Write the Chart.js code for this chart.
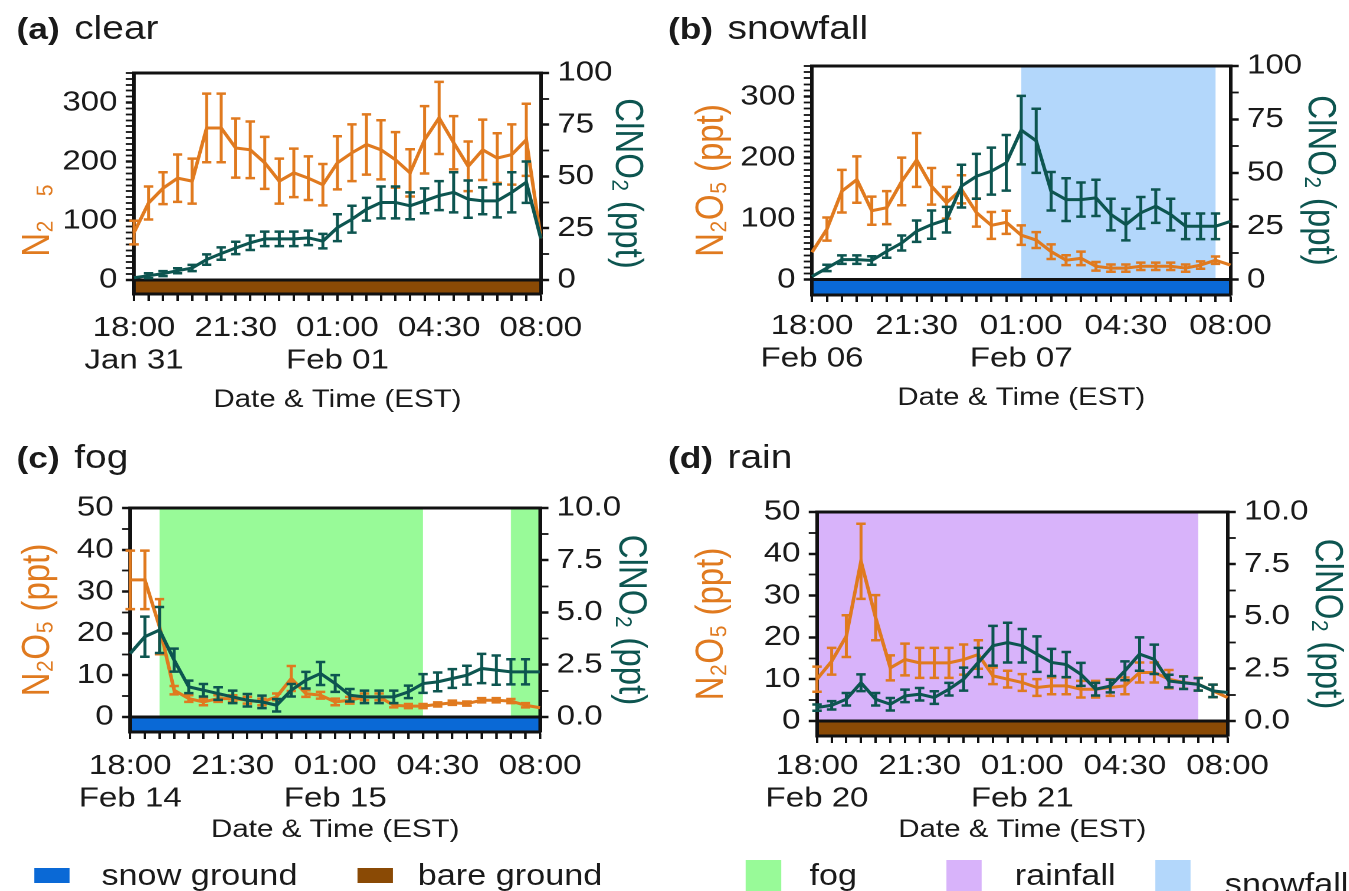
<!DOCTYPE html>
<html>
<head>
<meta charset="utf-8">
<script src="https://cdn.jsdelivr.net/npm/chart.js@4.4.1/dist/chart.umd.min.js"></script>
<style>
  html, body { margin: 0; background: #fff; }
  body { width: 1349px; height: 891px; overflow: hidden; font-family: "Liberation Sans", Arial, sans-serif; color: #1a1a1a; }
  /* the source figure is a bit stretched sideways, so draw narrow and widen */
  #page { position: absolute; left: 0; top: 0; width: 1144px; height: 891px; transform: scaleX(1.18); transform-origin: 0 0; }
  #page canvas { position: absolute; }
  .ptitle { position: absolute; font-size: 33px; line-height: 1; white-space: nowrap; }
  .ptitle b { font-size: 30px; margin-right: 3px; }
  .lg { position: absolute; font-size: 29px; line-height: 1; white-space: nowrap; }
  .sw { position: absolute; }
</style>
</head>
<body>
<div id="page">
  <div class="ptitle" style="left:14px;top:11px"><b>(a)</b> clear</div>
  <div class="ptitle" style="left:566px;top:11px"><b>(b)</b> snowfall</div>
  <div class="ptitle" style="left:14px;top:440px"><b>(c)</b> fog</div>
  <div class="ptitle" style="left:566px;top:440px"><b>(d)</b> rain</div>

  <canvas id="chart-a"></canvas>
  <canvas id="chart-b"></canvas>
  <canvas id="chart-c"></canvas>
  <canvas id="chart-d"></canvas>

  <div class="sw" style="left:29px;top:868px;width:30px;height:15px;background:#0A69D6"></div>
  <div class="lg" style="left:86px;top:861px">snow ground</div>
  <div class="sw" style="left:303px;top:868px;width:30px;height:15px;background:#8A4A05"></div>
  <div class="lg" style="left:354px;top:861px">bare ground</div>
  <div class="sw" style="left:632px;top:860px;width:30px;height:31px;background:#98FA98"></div>
  <div class="lg" style="left:686px;top:861px">fog</div>
  <div class="sw" style="left:802px;top:860px;width:30px;height:31px;background:#D8B3FA"></div>
  <div class="lg" style="left:860px;top:861px">rainfall</div>
  <div class="sw" style="left:979px;top:860px;width:30px;height:31px;background:#B3D7FB"></div>
  <div class="lg" style="left:1038px;top:870px">snowfall</div>
</div>

<script>
// ── data (30-min bins, 18:00 → 08:00) ──────────────────────────────────
const tickTimes = ["18:00", "21:30", "01:00", "04:30", "08:00"];

const datesA = ["Jan 31", "", "Feb 01", "", ""];
const n2o5A    = [80,130,155,172,167,257,257,223,220,198,167,181,172,161,198,215,229,220,203,181,237,274,232,192,220,206,212,237,70];
const n2o5ErrA = [20,28,27,40,38,58,58,50,48,44,38,41,37,35,45,48,51,50,47,40,57,61,45,42,51,42,51,61,0];
const clno2A    = [1,2,3,4.4,5.7,9.8,12.7,15.4,17.9,19.8,19.8,19.8,20.3,18.7,25.2,29.3,34.1,37.4,37.4,35.8,38.2,40.7,42.3,39,38.2,38.2,42.3,47.2,20];
const clno2ErrA = [0,1.2,1.2,1.2,1.5,2.5,3,3,3.5,3.5,3.5,3.5,3.5,3.5,6.5,6.5,5.5,7.7,7.7,6.5,6,7,9.7,9,6.5,8,9.7,10,0];

const datesB = ["Feb 06", "", "Feb 07", "", ""];
const n2o5B    = [45,83,145,164,113,118,161,196,153,126,148,110,89,94,73,65,46,32,35,22,19,19,22,22,22,19,24,32,24];
const n2o5ErrB = [0,19,35,38,23,27,39,44,30,26,23,23,22,19,16,13,12,8,11,7,6,6,6,6,6,6,6,6,0];
const clno2B    = [1.5,5.5,9.4,9.4,9,13.3,17.2,22.7,25.8,28.1,43.8,48.4,50.8,54.7,70,65,41.4,37.5,37.5,38.3,30.5,25.8,31.3,34.4,30.5,25,25,25,27.3];
const clno2ErrB = [0,1.5,2,2,2,3,3.5,5,6.6,6,10,10.5,11,13,16,15,9,10,8,8.5,7.4,7.4,7.4,7.8,7.4,6,6,6,0];
const snowfallB = [[14, 27]];

const datesC = ["Feb 14", "", "Feb 15", "", ""];
const n2o5C    = [32.8,32.8,21.6,6.4,4.4,3.6,4.4,4.4,4,3.6,4.8,9.2,5.6,5.2,3.6,4,4.8,4.8,2.8,2.6,2.6,3,3.4,3.2,4,4,3.8,2.8,2.2];
const n2o5ErrC = [7,7,6.6,1,0.8,0.8,0.8,0.8,0.8,0.8,0.8,3,0.8,0.8,0.8,0.8,0.8,0.8,0.5,0.5,0.5,0.5,0.5,0.5,0.5,0.5,0.5,0.5,0];
const clno2C    = [3.04,3.84,4.16,2.72,1.44,1.28,1.12,0.96,0.8,0.72,0.56,1.28,1.76,2.08,1.6,1.04,0.96,0.96,0.96,1.2,1.6,1.68,1.84,2.0,2.32,2.24,2.16,2.16,2.16];
const clno2ErrC = [0,0.96,1.1,0.55,0.3,0.3,0.3,0.3,0.3,0.3,0.3,0.3,0.4,0.55,0.4,0.3,0.3,0.3,0.3,0.3,0.45,0.45,0.45,0.45,0.7,0.7,0.6,0.6,0];
const fogC = [[2, 20], [26, 28]];

const datesD = ["Feb 20", "", "Feb 21", "", ""];
const n2o5D    = [10,14.3,20.3,38.2,24.7,12.7,14.7,13.9,13.9,13.9,14.7,15.9,10.8,10,9.2,8,8.4,8.4,7.6,7.6,8,8.4,11.6,11.6,10,9.2,8.8,7.2,5.6];
const n2o5ErrD = [3,3.2,5,9,5.4,3,3.8,3.6,3.6,3.6,3.6,3.4,2,2,2,2,2,2,2,2,2,2,2.4,2.4,2.2,1.5,1.5,1.5,0];
const clno2D    = [0.64,0.75,1.04,1.83,1.04,0.8,1.2,1.28,1.12,1.52,2.0,2.8,3.6,3.75,3.6,3.2,2.8,2.7,2.23,1.52,1.67,2.4,3.2,2.95,1.91,1.83,1.75,1.44,1.36];
const clno2ErrD = [0.15,0.2,0.3,0.4,0.3,0.3,0.3,0.3,0.3,0.3,0.55,0.7,0.95,0.95,0.8,0.85,0.65,0.6,0.55,0.3,0.3,0.45,0.8,0.7,0.3,0.3,0.3,0.3,0];
const rainD = [[0, 26]];

// ── style ──────────────────────────────────────────────────────────────
const S = 1.18;                 // horizontal stretch of #page
const ORANGE = "#E07A1F", TEAL = "#0D5550", INK = "#1a1a1a";
const SNOW_GROUND = "#0A69D6", BARE_GROUND = "#8A4A05";
const FOG = "#98FA98", RAIN = "#D8B3FA", SNOWFALL = "#B3D7FB";

Chart.defaults.font.family = '"Liberation Sans", Arial, sans-serif';
Chart.defaults.color = INK;

const N2O5_TITLE  = "N\u2082O\u2085 (ppt)";
const CLNO2_TITLE = "ClNO\u2082 (ppt)";

const ticksFrom = (lo, hi, step) => {
  const out = [];
  for (let i = 0; lo + i * step <= hi + 1e-9; i++) out.push(lo + i * step);
  return out;
};

// shading, ground strip, error bars, top frame line
const panelDecor = {
  id: "panelDecor",
  beforeDraw(chart, args, opts) {
    const { ctx, chartArea: a, scales: { x, yL } } = chart;
    const y0 = yL.getPixelForValue(0);
    ctx.save();
    ctx.fillStyle = opts.spanColor;
    for (const [s, e] of opts.spans) {
      const x1 = x.getPixelForValue(s), x2 = x.getPixelForValue(e);
      ctx.fillRect(x1, a.top, x2 - x1, y0 - a.top);
    }
    ctx.fillStyle = opts.ground;
    ctx.fillRect(a.left, y0, a.right - a.left, a.bottom - y0);
    ctx.restore();
  },
  afterDatasetDraw(chart, args) {
    const ds = chart.data.datasets[args.index];
    if (!ds.errors) return;
    const { ctx } = chart;
    const xS = chart.scales.x, yS = chart.scales[ds.yAxisID];
    ctx.save();
    ctx.strokeStyle = ds.borderColor;
    ctx.lineWidth = 2.5;
    ds.data.forEach((v, i) => {
      const e = ds.errors[i];
      if (!e) return;
      const px = xS.getPixelForValue(i);
      const t = yS.getPixelForValue(v + e), b = yS.getPixelForValue(v - e);
      ctx.beginPath();
      ctx.moveTo(px, t); ctx.lineTo(px, b);
      ctx.moveTo(px - 4, t); ctx.lineTo(px + 4, t);
      ctx.moveTo(px - 4, b); ctx.lineTo(px + 4, b);
      ctx.stroke();
    });
    ctx.restore();
  },
  afterDraw(chart) {
    const { ctx, chartArea: a } = chart;
    ctx.save();
    ctx.strokeStyle = "#111";
    ctx.lineWidth = 3;
    ctx.beginPath();
    ctx.moveTo(a.left - 1.5, a.top); ctx.lineTo(a.right + 1.5, a.top);
    ctx.stroke();
    ctx.restore();
  },
};

// frame: [left, right, top, bottom] in page pixels
function makePanel(canvasId, p) {
  const [L, R, T, B] = p.frame;
  const cl = p.canvasLeft, ct = T - 30;
  const leftW = L / S - cl;
  const plotW = (R - L) / S;
  const rightW = p.rightTitleX / S + 19.8 + 4 - R / S;
  const xH = p.xTitleY + 15 - B;
  const w = leftW + plotW + rightW, h = 30 + (B - T) + xH;

  const canvas = document.getElementById(canvasId);
  canvas.width = w; canvas.height = h;
  canvas.style.left = cl + "px"; canvas.style.top = ct + "px";
  canvas.style.width = w + "px"; canvas.style.height = h + "px";

  const n = p.n2o5.length;
  const rMin = p.lMin / p.ratio, rMax = p.lMax / p.ratio;

  return new Chart(canvas.getContext("2d"), {
    type: "line",
    data: {
      labels: Array.from({ length: n }, (_, i) => i),
      datasets: [
        { label: "N2O5", data: p.n2o5, errors: p.n2o5Err, yAxisID: "yL",
          borderColor: ORANGE, borderWidth: 3, pointRadius: 0, tension: 0, order: 2 },
        { label: "ClNO2", data: p.clno2, errors: p.clno2Err, yAxisID: "yR",
          borderColor: TEAL, borderWidth: 3, pointRadius: 0, tension: 0, order: 1 },
      ],
    },
    options: {
      responsive: false, maintainAspectRatio: false, animation: false, devicePixelRatio: 2,
      layout: { padding: { top: 30, left: 0, right: 0, bottom: 0 } },
      events: [],
      scales: {
        x: {
          type: "category", offset: false,
          grid: { drawOnChartArea: false, tickLength: 7, tickColor: "#111", tickWidth: 2 },
          border: { color: "#111", width: 3 },
          ticks: {
            autoSkip: false, maxRotation: 0, minRotation: 0, padding: p.tickPad,
            font: { size: 28, lineHeight: 1.16 },
            callback: (v, i) => i % 7 === 0 ? [tickTimes[i / 7], p.dates[i / 7]] : "",
          },
          title: { display: true, text: "Date & Time (EST)", font: { size: 25, lineHeight: 1.2 }, padding: 0 },
          afterFit: s => { s.height = xH; },
        },
        yL: {
          position: "left", min: p.lMin, max: p.lMax,
          afterBuildTicks: s => { s.ticks = ticksFrom(0, p.lMax, p.lMinor).map(v => ({ value: v })); },
          ticks: { autoSkip: false, padding: 7, font: { size: 28 },
                   callback: v => p.lLabels.includes(v) ? String(v) : "" },
          grid: {
            tickLength: 7, tickColor: "#111",
            tickWidth: c => c.tick && p.lLabels.includes(c.tick.value) ? 2.5 : 1.8,
            color: c => c.tick && c.tick.value === 0 ? "#111" : "rgba(0,0,0,0)",
            lineWidth: c => c.tick && c.tick.value === 0 ? 3 : 1,
          },
          border: { color: "#111", width: 3 },
          title: { display: true, text: p.leftTitle, color: ORANGE, font: { size: 33, lineHeight: 1.2 },
                   padding: { top: p.leftTitleX / S - cl - 19.8, bottom: 0 } },
          afterFit: s => { s.width = leftW; },
        },
        yR: {
          position: "right", min: rMin, max: rMax,
          afterBuildTicks: s => { s.ticks = ticksFrom(0, rMax, p.rMinor).map(v => ({ value: v })); },
          ticks: { autoSkip: false, padding: 7, font: { size: 28 },
                   callback: v => p.rLabels.includes(v) ? v.toFixed(p.rDigits) : "" },
          grid: { drawOnChartArea: false, tickLength: 7, tickColor: "#111",
                  tickWidth: c => c.tick && p.rLabels.includes(c.tick.value) ? 2.5 : 1.8 },
          border: { color: "#111", width: 3 },
          title: { display: true, text: CLNO2_TITLE, color: TEAL, font: { size: 33, lineHeight: 1.2 },
                   padding: { top: 4, bottom: 0 } },
          afterFit: s => { s.width = rightW; },
        },
      },
      plugins: {
        legend: { display: false },
        tooltip: { enabled: false },
        panelDecor: { spans: p.spans, spanColor: p.spanColor, ground: p.ground },
      },
    },
    plugins: [panelDecor],
  });
}

const bigAxis = { lMax: 350, ratio: 3.5, lMinor: 10, lLabels: [0, 100, 200, 300],
                  rMinor: 12.5, rLabels: [0, 25, 50, 75, 100], rDigits: 0 };
const smallAxis = { lMax: 50, ratio: 5, lMinor: 5, lLabels: [0, 10, 20, 30, 40, 50],
                    rMinor: 1.25, rLabels: [0, 2.5, 5, 7.5, 10], rDigits: 1 };

makePanel("chart-a", { ...bigAxis, lMin: -24,
  frame: [134, 541, 73, 294], canvasLeft: 0, leftTitleX: 38, rightTitleX: 627, tickPad: 11, xTitleY: 400,
  leftTitle: "N\u2082\u2002\u2009\u2085        ",
  dates: datesA, n2o5: n2o5A, n2o5Err: n2o5ErrA, clno2: clno2A, clno2Err: clno2ErrA,
  spans: [], spanColor: SNOWFALL, ground: BARE_GROUND });

makePanel("chart-b", { ...bigAxis, lMin: -25,
  frame: [812, 1231, 66, 295], canvasLeft: 575, leftTitleX: 712, rightTitleX: 1320, tickPad: 8, xTitleY: 398,
  leftTitle: N2O5_TITLE,
  dates: datesB, n2o5: n2o5B, n2o5Err: n2o5ErrB, clno2: clno2B, clno2Err: clno2ErrB,
  spans: snowfallB, spanColor: SNOWFALL, ground: SNOW_GROUND });

makePanel("chart-c", { ...smallAxis, lMin: -3.6,
  frame: [130, 540, 508, 732], canvasLeft: 0, leftTitleX: 38, rightTitleX: 630, tickPad: 11, xTitleY: 830,
  leftTitle: N2O5_TITLE,
  dates: datesC, n2o5: n2o5C, n2o5Err: n2o5ErrC, clno2: clno2C, clno2Err: clno2ErrC,
  spans: fogC, spanColor: FOG, ground: SNOW_GROUND });

makePanel("chart-d", { ...smallAxis, lMin: -3.6,
  frame: [817, 1228, 512, 736], canvasLeft: 575, leftTitleX: 712, rightTitleX: 1327, tickPad: 7, xTitleY: 830,
  leftTitle: N2O5_TITLE,
  dates: datesD, n2o5: n2o5D, n2o5Err: n2o5ErrD, clno2: clno2D, clno2Err: clno2ErrD,
  spans: rainD, spanColor: RAIN, ground: BARE_GROUND });
</script>
</body>
</html>
